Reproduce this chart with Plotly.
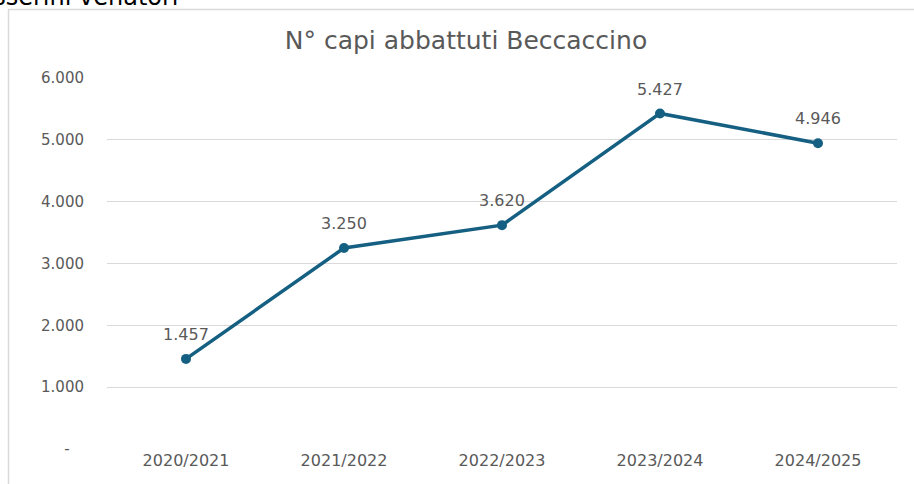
import plotly.graph_objects as go

categories = ["2020/2021", "2021/2022", "2022/2023", "2023/2024", "2024/2025"]
values = [1457, 3250, 3620, 5427, 4946]
value_labels = ["1.457", "3.250", "3.620", "5.427", "4.946"]
y_tickvals = [0, 1000, 2000, 3000, 4000, 5000, 6000]
y_ticktext = ["-\u00a0\u00a0\u00a0", "1.000", "2.000", "3.000", "4.000", "5.000", "6.000"]
title_text = "N° capi abbattuti Beccaccino"
header_text = "tesserini venatori"

W, H = 914, 484
L, R, T, B = 107, 17, 78, 35
pw, ph = W - L - R, H - T - B
FONT = "DejaVu Sans, Liberation Sans, Arial"

def px_x(x):
    return (x - L) / pw

def px_y(y):
    return (H - B - y) / ph

fig = go.Figure()
fig.add_trace(go.Scatter(
    x=categories, y=values, mode="lines+markers",
    line=dict(color="#156082", width=3.5),
    marker=dict(size=10, color="#156082"),
    cliponaxis=False, showlegend=False, hoverinfo="skip",
))
fig.add_trace(go.Scatter(
    x=categories, y=values, mode="markers+text",
    text=value_labels, textposition="top center",
    textfont=dict(size=16, color="#595959", family=FONT),
    marker=dict(size=22, color="rgba(0,0,0,0)"),
    cliponaxis=False, showlegend=False,
))

gray = "#D9D9D9"
fig.update_layout(
    width=W, height=H,
    margin=dict(l=L, r=R, t=T, b=B),
    paper_bgcolor="white", plot_bgcolor="white",
    font=dict(family=FONT, color="#595959"),
    title=dict(text=title_text, x=466 / W, xanchor="center",
               y=1 - 40 / H, yanchor="middle",
               font=dict(size=25, color="#595959")),
    xaxis=dict(showgrid=False, showline=False, ticks="", tickfont=dict(size=16, color="#595959"),
               range=[-0.5, 4.5], fixedrange=True),
    yaxis=dict(range=[0, 6000], tickvals=y_tickvals, ticktext=y_ticktext,
               showgrid=True, gridcolor=gray, gridwidth=1.3, zeroline=False,
               showline=False, ticks="", tickfont=dict(size=15, color="#595959"),
               ticklabelstandoff=22),
    shapes=[
        dict(type="line", xref="paper", yref="paper", x0=px_x(8.5), x1=px_x(8.5),
             y0=px_y(9), y1=px_y(H + 5), line=dict(color=gray, width=1.5)),
        dict(type="line", xref="paper", yref="paper", x0=px_x(8), x1=px_x(W + 5),
             y0=px_y(9.5), y1=px_y(9.5), line=dict(color=gray, width=1.5)),
    ],
    annotations=[
        dict(text=header_text, xref="paper", yref="paper", x=px_x(181), y=px_y(13),
             xanchor="right", yanchor="bottom", showarrow=False,
             font=dict(size=24, color="black", family=FONT)),
    ],
)

fig.write_html("out.html", config={"displayModeBar": False},
               post_script="document.body.style.margin='0';")
